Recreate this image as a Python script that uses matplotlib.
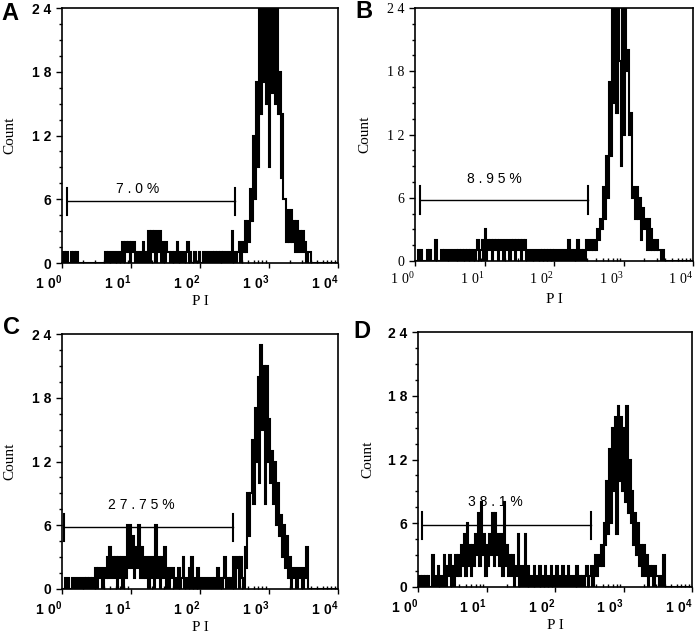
import numpy as np
import matplotlib.pyplot as plt
from matplotlib.ticker import LogLocator, NullFormatter, FixedLocator
import matplotlib.transforms as mtransforms

plt.rcParams['mathtext.default'] = 'regular'

# 48 channels per decade, 10^0 .. 10^4
bins_per_decade = 48
edges = 10 ** (np.arange(4 * bins_per_decade + 1) / bins_per_decade)

counts_a = [
    0, 1, 0, 1, 0, 0, 1, 0, 1, 0, 1, 0, 0, 0, 0, 0, 0, 0, 0, 0, 0, 0, 0, 0,
    0, 0, 0, 0, 0, 0, 1, 0, 1, 0, 1, 0, 1, 0, 1, 0, 1, 0, 2, 0, 2, 1, 2, 0,
    2, 1, 2, 0, 1, 0, 1, 0, 2, 0, 1, 0, 3, 0, 3, 1, 3, 0, 3, 1, 3, 0, 2, 0,
    2, 1, 1, 0, 1, 0, 1, 0, 2, 0, 1, 0, 1, 0, 1, 2, 0, 1, 0, 0, 1, 0, 0, 1,
    0, 0, 1, 0, 1, 0, 1, 0, 1, 0, 1, 0, 1, 0, 1, 0, 1, 0, 1, 0, 1, 0, 3, 0,
    1, 0, 1, 2, 0, 2, 1, 4, 1, 4, 2, 7, 4, 12, 6, 17, 9, 26, 14, 26, 17, 26, 15, 26,
    9, 26, 16, 26, 15, 26, 14, 18, 8, 14, 6, 6, 2, 5, 2, 5, 2, 4, 1, 4, 1, 3, 1, 3,
    1, 2, 0, 1, 1, 0, 0, 0, 0, 0, 0, 0, 0, 0, 0, 0, 0, 0, 0, 0, 0, 0, 0, 0,
]
counts_b = [
    0, 0, 1, 0, 1, 0, 0, 0, 1, 0, 1, 0, 0, 0, 2, 0, 0, 0, 1, 0, 1, 0, 1, 0,
    1, 0, 1, 0, 1, 0, 1, 0, 1, 0, 1, 0, 1, 0, 1, 0, 1, 0, 1, 2, 0, 1, 2, 0,
    3, 0, 2, 1, 2, 0, 2, 1, 2, 0, 2, 1, 2, 0, 2, 1, 2, 0, 2, 1, 2, 0, 2, 1,
    2, 0, 2, 1, 2, 0, 1, 0, 1, 0, 1, 0, 1, 0, 1, 0, 1, 0, 1, 0, 1, 0, 1, 0,
    1, 0, 1, 0, 1, 0, 1, 0, 1, 0, 2, 0, 1, 0, 1, 0, 2, 0, 1, 0, 1, 0, 2, 1,
    2, 1, 2, 1, 2, 1, 3, 2, 4, 3, 7, 4, 10, 6, 17, 10, 26, 15, 26, 14, 26, 19, 9, 26,
    12, 26, 18, 20, 12, 14, 6, 7, 4, 7, 4, 6, 2, 5, 3, 4, 1, 4, 1, 3, 1, 2, 1, 2,
    1, 1, 0, 1, 0, 0, 0, 0, 0, 0, 0, 0, 0, 0, 0, 0, 0, 0, 0, 0, 0, 0, 0, 0,
]
counts_c = [
    0, 0, 1, 0, 1, 0, 0, 1, 0, 1, 0, 1, 0, 1, 0, 1, 0, 1, 0, 1, 0, 1, 0, 2,
    0, 2, 1, 2, 0, 2, 1, 3, 1, 4, 1, 3, 1, 3, 0, 3, 1, 3, 0, 3, 1, 6, 2, 6,
    2, 5, 1, 4, 2, 6, 1, 4, 1, 3, 1, 3, 0, 3, 1, 3, 0, 6, 1, 3, 0, 3, 1, 4,
    0, 2, 0, 2, 1, 2, 0, 1, 0, 2, 0, 1, 3, 0, 1, 0, 2, 0, 3, 0, 1, 0, 2, 0,
    1, 0, 1, 0, 1, 0, 1, 0, 1, 0, 1, 0, 2, 0, 1, 0, 1, 3, 0, 1, 0, 1, 0, 3,
    0, 2, 3, 0, 3, 1, 0, 4, 2, 9, 5, 9, 14, 8, 17, 12, 20, 10, 23, 15, 21, 8, 21, 12,
    16, 10, 13, 8, 12, 6, 10, 5, 7, 3, 6, 2, 5, 1, 3, 0, 2, 1, 2, 0, 2, 1, 2, 0,
    2, 1, 4, 0, 0, 0, 0, 0, 0, 0, 0, 0, 0, 0, 0, 0, 0, 0, 0, 0, 0, 0, 0, 0,
]
counts_d = [
    0, 1, 0, 1, 0, 1, 0, 1, 0, 0, 3, 0, 1, 0, 2, 0, 1, 0, 3, 0, 2, 1, 3, 0,
    2, 0, 3, 1, 3, 1, 4, 2, 5, 1, 6, 2, 4, 1, 4, 2, 5, 3, 7, 2, 8, 3, 5, 1,
    4, 2, 5, 3, 7, 2, 7, 3, 5, 2, 5, 1, 8, 2, 4, 1, 3, 1, 3, 0, 2, 1, 5, 0,
    2, 0, 2, 5, 0, 2, 0, 1, 0, 2, 0, 1, 0, 2, 0, 1, 0, 2, 0, 1, 0, 2, 0, 1,
    0, 2, 0, 1, 0, 2, 0, 1, 0, 2, 0, 1, 0, 1, 0, 2, 0, 1, 0, 1, 0, 1, 2, 0,
    1, 2, 0, 2, 3, 1, 3, 2, 4, 2, 6, 4, 10, 5, 13, 6, 15, 9, 16, 5, 17, 10, 16, 9,
    15, 8, 17, 7, 12, 6, 9, 4, 7, 3, 6, 2, 4, 1, 4, 1, 3, 0, 2, 1, 2, 0, 2, 1,
    1, 0, 1, 0, 3, 0, 0, 0, 0, 0, 0, 0, 0, 0, 0, 0, 0, 0, 0, 0, 0, 0, 0, 0,
]

panel_letters = ['A', 'B', 'C', 'D']
gate_labels = ['7 . 0 %', '8 . 9 5 %', '2 7 . 7 5 %', '3 8 . 1 %']
gate_lo = [1.17, 1.18, 1.08, 1.15]
gate_hi = [321, 309, 300, 340]
gate_y = 5.8
label_x = [12.3, 13.7, 14.3, 13.3]
label_y = [7.0, 7.8, 7.9, 8.0]

y_ticks = [0, 6, 12, 18, 24]
y_ticklabels = ['0', '6', '1 2', '1 8', '2 4']
x_ticks = [1, 10, 100, 1000, 10000]
x_ticklabels = [r'$1\ 0^{0}$', r'$1\ 0^{1}$', r'$1\ 0^{2}$', r'$1\ 0^{3}$', r'$1\ 0^{4}$']

# axes boxes in pixels (left, top, right, bottom) of a 700x635 figure
boxes = [(62, 8, 338, 263), (415, 8, 693, 261), (62, 334, 338, 589), (418, 332, 692, 587)]
ylabel_x = [9, 364, 9, 367]
letter_pos = [(10, 14), (364, 12), (12, 328), (362, 331)]
tick_fonts = ['Liberation Sans', 'Liberation Serif', 'Liberation Sans', 'Liberation Sans']
tick_weights = ['bold', 'normal', 'bold', 'bold']

W, H = 700, 635
fig = plt.figure(figsize=(7, 6.35), dpi=100)

all_counts = [counts_a, counts_b, counts_c, counts_d]
for i in range(4):
    l, t, r, b = boxes[i]
    ax = fig.add_axes([l / W, 1 - b / H, (r - l) / W, (b - t) / H])
    ax.stairs(all_counts[i], edges, color='black', lw=1.5)

    ax.set_xscale('log')
    ax.set_xlim(1, 1e4)
    ax.set_ylim(0, 24)

    # gate marker
    ax.plot([gate_lo[i], gate_hi[i]], [gate_y, gate_y], color='black', lw=1.0)
    ax.plot([gate_lo[i], gate_lo[i]], [4.5, 7.1], color='black', lw=1.5)
    ax.plot([gate_hi[i], gate_hi[i]], [4.5, 7.1], color='black', lw=1.5)
    ax.text(label_x[i], label_y[i], gate_labels[i], ha='center', va='center',
            fontsize=10, family='Liberation Sans')

    ax.set_yticks(y_ticks)
    ax.set_yticklabels(y_ticklabels, family=tick_fonts[i], fontsize=10,
                       fontweight=tick_weights[i])
    ax.yaxis.set_minor_locator(FixedLocator(np.arange(0, 24.1, 1.5)))
    ax.set_xticks(x_ticks)
    ax.set_xticklabels(x_ticklabels, family=tick_fonts[i], fontsize=10,
                       fontweight=tick_weights[i])
    ax.xaxis.set_minor_locator(LogLocator(base=10, subs=np.arange(2, 10)))
    ax.xaxis.set_minor_formatter(NullFormatter())
    offset = mtransforms.ScaledTranslation(-2 / 72, 0, fig.dpi_scale_trans)
    for lab in ax.get_xticklabels():
        lab.set_ha('right')
        lab.set_transform(lab.get_transform() + offset)

    ax.tick_params(axis='y', which='major', direction='out', length=4.5, width=1.0, pad=3)
    ax.tick_params(axis='y', which='minor', direction='out', length=2.5, width=1.0)
    ax.tick_params(axis='x', which='major', direction='out', length=3.5, width=1.0, pad=4)
    ax.tick_params(axis='x', which='minor', direction='in', length=2.5, width=1.0)
    for sp in ax.spines.values():
        sp.set_linewidth(1.2)

    ax.set_ylabel('Count', family='Liberation Serif', fontsize=11)
    ax.yaxis.set_label_coords(-(l - ylabel_x[i] - 7) / (r - l), 0.5)
    ax.set_xlabel('P I', family='Liberation Serif', fontsize=11)
    ax.xaxis.set_label_coords(0.5, -32 / (b - t))

    lx, ly = letter_pos[i]
    fig.text(lx / W, 1 - ly / H, panel_letters[i], ha='center', va='center',
             fontsize=17, fontweight='bold', family='Liberation Sans')

fig.savefig('out.png', dpi=100)
